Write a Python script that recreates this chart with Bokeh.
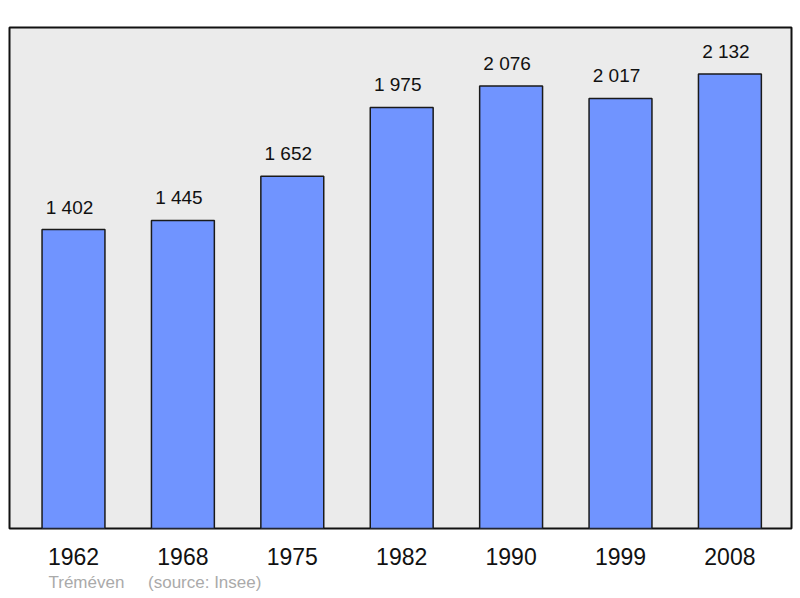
from bokeh.plotting import figure
from bokeh.models import ColumnDataSource, Range1d, FixedTicker, Title
from bokeh.core.properties import value
from bokeh.embed import file_html
from bokeh.resources import INLINE

years = ["1962", "1968", "1975", "1982", "1990", "1999", "2008"]
population = [1402, 1445, 1652, 1975, 2076, 2017, 2132]
place = "Tréméven"
source_note = "(source: Insee)"

xs = list(range(len(years)))
labels = ["{:,}".format(v).replace(",", " ") for v in population]
src = ColumnDataSource(dict(x=xs, top=population, label=labels))

p = figure(width=800, height=598, output_backend="svg", toolbar_location=None,
           x_range=Range1d(-0.585, 6.563), y_range=Range1d(0, 2350),
           min_border_left=9, min_border_right=9, min_border_top=27, min_border_bottom=70)
p.background_fill_color = "#ebebeb"
p.border_fill_color = "white"
p.outline_line_color = "#111111"
p.outline_line_width = 2
p.grid.visible = False
p.yaxis.visible = False

p.vbar(x="x", top="top", bottom=0, width=0.575, source=src,
       fill_color="#7094ff", line_color="#1a1a1a", line_width=1.5)
p.text(x="x", y="top", text="label", source=src, text_align="center",
       text_baseline="bottom", y_offset=-12, x_offset=-4,
       text_font=value("Liberation Sans"),
       text_font_size="19px", text_color="#111111")

ax = p.xaxis[0]
ax.ticker = FixedTicker(ticks=xs)
ax.major_label_overrides = {i: y for i, y in zip(xs, years)}
ax.axis_line_color = None
ax.major_tick_line_color = None
ax.minor_tick_line_color = None
ax.major_label_standoff = 13
ax.major_label_text_font = "Liberation Sans"
ax.major_label_text_font_size = "23px"
ax.major_label_text_color = "#111111"

t = Title(text=place + "\u00a0" * 5 + source_note, align="left", offset=39,
          text_font="Liberation Sans", text_font_size="17px",
          text_font_style="normal", text_color="#aaaaaa", standoff=6)
p.add_layout(t, "below")

open("out.html", "w").write(file_html(p, INLINE))
